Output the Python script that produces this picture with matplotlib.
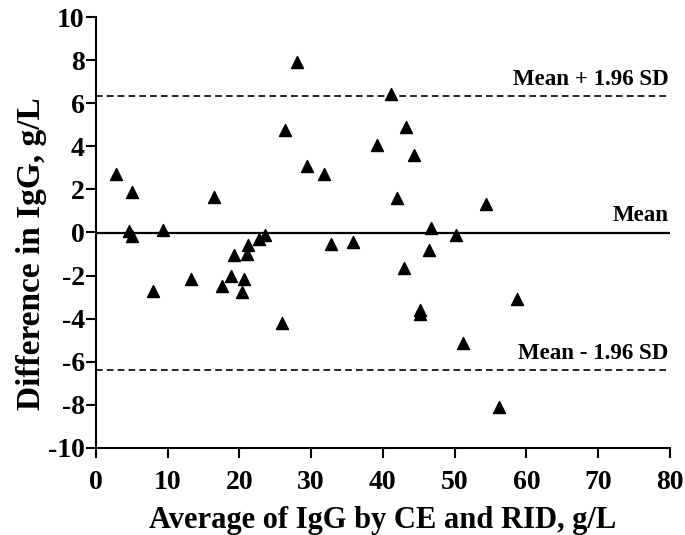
import matplotlib
matplotlib.use("Agg")
import matplotlib.pyplot as plt

# Bland-Altman data
avg = [2.8, 5.0, 4.6, 5.0, 9.3, 16.4, 28.0, 26.4, 29.4, 31.8, 39.2, 41.1,
       43.2, 44.3, 41.9, 54.3, 46.7, 50.2, 8.0, 13.2, 17.6, 18.8, 19.2,
       20.4, 20.7, 21.0, 21.2, 22.8, 23.5, 26.0, 32.7, 35.9, 46.4, 42.9,
       58.7, 45.1, 45.1, 51.1, 56.2]
diff = [2.7, 1.9, 0.05, -0.18, 0.13, 1.66, 7.9, 4.75, 3.1, 2.7, 4.05, 6.45,
        4.9, 3.6, 1.6, 1.32, 0.21, -0.1, -2.73, -2.16, -2.48, -2.0, -1.03,
        -2.76, -2.16, -1.0, -0.56, -0.29, -0.1, -4.2, -0.52, -0.46, -0.8,
        -1.66, -3.09, -3.58, -3.77, -5.13, -8.11]

mean_d = -0.02
upper = 6.33
lower = -6.4

plt.rcParams['font.family'] = ['Liberation Serif', 'DejaVu Serif']
plt.rcParams['font.weight'] = 'bold'
plt.rcParams['axes.unicode_minus'] = False

fig = plt.figure(figsize=(6.85, 5.35), dpi=100)
ax = fig.add_axes([0.140, 0.163, 0.838, 0.805])

ax.scatter(avg, diff, marker='^', s=75, color='black', zorder=3)
ax.axhline(mean_d, color='black', lw=1.6)
ax.axhline(upper, color='black', lw=1.2, ls=(0, (4, 2.5)))
ax.axhline(lower, color='black', lw=1.2, ls=(0, (4, 2.5)))

ax.text(79.8, upper + 0.3, 'Mean + 1.96 SD', ha='right', va='bottom', fontsize=16.5, fontweight='bold')
ax.text(79.8, mean_d + 0.3, 'Mean', ha='right', va='bottom', fontsize=16.5, fontweight='bold')
ax.text(79.8, lower + 0.3, 'Mean - 1.96 SD', ha='right', va='bottom', fontsize=16.5, fontweight='bold')

ax.set_xlim(0, 80)
ax.set_ylim(-10, 10)
ax.set_xticks(range(0, 81, 10))
ax.set_yticks(range(-10, 11, 2))
ax.spines['top'].set_visible(False)
ax.spines['right'].set_visible(False)
ax.spines['left'].set_linewidth(1.5)
ax.spines['bottom'].set_linewidth(1.5)
ax.tick_params(direction='out', length=7, width=1.5, labelsize=20)
ax.tick_params(axis='y', pad=1)
ax.tick_params(axis='x', pad=9)
for lab in ax.get_xticklabels() + ax.get_yticklabels():
    lab.set_fontweight('bold')

ax.set_xlabel('Average of IgG by CE and RID, g/L', fontsize=22, fontweight='bold', labelpad=8)
ax.set_ylabel('Difference in IgG, g/L', fontsize=24, fontweight='bold')
ax.yaxis.set_label_coords(-0.085, 0.45)

fig.savefig('out.png', dpi=100)
